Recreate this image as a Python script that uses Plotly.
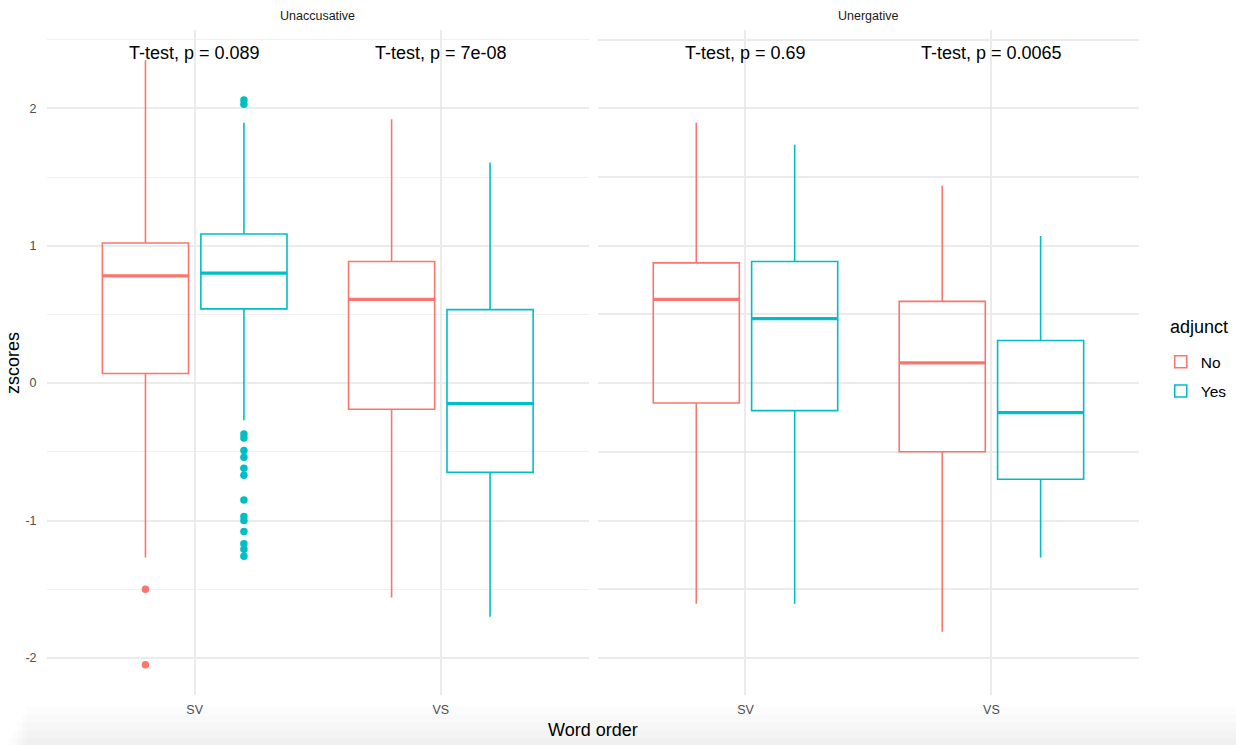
import plotly.graph_objects as go

# ---- data -------------------------------------------------------------
facets = ["Unaccusative", "Unergative"]
orders = ["SV", "VS"]
levels = ["No", "Yes"]
colors = {"No": "#F8766D", "Yes": "#00BFC4"}

# box statistics per facet / adjunct level, ordered as in `orders`
q1 = {
    ("Unaccusative", "No"): [0.07, -0.19],
    ("Unaccusative", "Yes"): [0.54, -0.65],
    ("Unergative", "No"): [-0.145, -0.50],
    ("Unergative", "Yes"): [-0.20, -0.70],
}
median = {
    ("Unaccusative", "No"): [0.78, 0.61],
    ("Unaccusative", "Yes"): [0.80, -0.15],
    ("Unergative", "No"): [0.61, 0.147],
    ("Unergative", "Yes"): [0.47, -0.215],
}
q3 = {
    ("Unaccusative", "No"): [1.02, 0.885],
    ("Unaccusative", "Yes"): [1.085, 0.535],
    ("Unergative", "No"): [0.875, 0.595],
    ("Unergative", "Yes"): [0.885, 0.31],
}
lower = {
    ("Unaccusative", "No"): [-1.27, -1.56],
    ("Unaccusative", "Yes"): [-0.27, -1.70],
    ("Unergative", "No"): [-1.605, -1.81],
    ("Unergative", "Yes"): [-1.605, -1.27],
}
upper = {
    ("Unaccusative", "No"): [2.35, 1.92],
    ("Unaccusative", "Yes"): [1.895, 1.605],
    ("Unergative", "No"): [1.895, 1.436],
    ("Unergative", "Yes"): [1.735, 1.07],
}
# outlying points: (facet, level, order) -> values
outliers = {
    ("Unaccusative", "No", "SV"): [-1.50, -2.05],
    ("Unaccusative", "Yes", "SV"): [2.06, 2.03, -0.37, -0.40, -0.49, -0.54,
                                    -0.62, -0.67, -0.85, -0.97, -1.00, -1.08,
                                    -1.17, -1.21, -1.26],
}
# t-test labels per facet, ordered as in `orders`
ttest_labels = {
    "Unaccusative": ["T-test, p = 0.089", "T-test, p = 7e-08"],
    "Unergative": ["T-test, p = 0.69", "T-test, p = 0.0065"],
}
label_y = 2.40

y_ticks = [-2, -1, 0, 1, 2]
y_ticktext = ["-2", "-1", "0", "1", "2"]

# ---- geometry of the dodged boxes -----------------------------------
dodge = {"No": -0.2, "Yes": 0.2}
box_w = 0.35

fig = go.Figure()
axes = {"Unaccusative": ("x", "y"), "Unergative": ("x2", "y2")}

for fi, facet in enumerate(facets):
    xa, ya = axes[facet]
    for lev in levels:
        key = (facet, lev)
        pos = [i + 1 + dodge[lev] for i in range(len(orders))]
        fig.add_trace(go.Box(
            x=pos, q1=q1[key], median=median[key], q3=q3[key],
            lowerfence=lower[key], upperfence=upper[key],
            width=box_w, whiskerwidth=0,
            line=dict(color=colors[lev], width=1.6),
            fillcolor="rgba(255,255,255,0)",
            boxpoints=False, hoverinfo="skip",
            name=lev, legendgroup=lev, showlegend=(fi == 0),
            xaxis=xa, yaxis=ya,
        ))
        # thicker median segment
        mx, my = [], []
        for p, m in zip(pos, median[key]):
            mx += [p - box_w / 2, p + box_w / 2, None]
            my += [m, m, None]
        fig.add_trace(go.Scatter(
            x=mx, y=my, mode="lines",
            line=dict(color=colors[lev], width=3.2),
            showlegend=False, hoverinfo="skip", xaxis=xa, yaxis=ya,
        ))
        # outliers
        for oi, order in enumerate(orders):
            vals = outliers.get((facet, lev, order))
            if vals:
                fig.add_trace(go.Scatter(
                    x=[oi + 1 + dodge[lev]] * len(vals), y=vals,
                    mode="markers",
                    marker=dict(color=colors[lev], size=7.5),
                    showlegend=False, hoverinfo="skip", xaxis=xa, yaxis=ya,
                ))
    # t-test annotations
    for oi, txt in enumerate(ttest_labels[facet]):
        fig.add_annotation(
            x=oi + 1, y=label_y, xref=xa, yref=ya, text=txt,
            showarrow=False, xanchor="center",
            font=dict(size=18, color="black"),
        )

# ---- layout -----------------------------------------------------------
grid = "#EBEBEB"
hidden_tick = dict(ticks="outside", tickcolor="rgba(0,0,0,0)")
xcommon = dict(
    range=[0.4, 2.6], tickmode="array", tickvals=[1, 2], ticktext=orders,
    showgrid=True, gridcolor=grid, gridwidth=1.7, zeroline=False,
    showline=False, ticklen=3, **hidden_tick,
    tickfont=dict(size=12.5, color="#4D4D4D"),
)
ycommon = dict(
    range=[-2.27, 2.57], tickmode="array", tickvals=y_ticks,
    ticktext=y_ticktext, showgrid=True, gridcolor=grid,
    gridwidth=1.7, zeroline=False, showline=False, ticklen=7, **hidden_tick,
    minor=dict(dtick=0.5, tick0=0, showgrid=True, gridcolor="#F0F0F0",
               gridwidth=1.1),
    tickfont=dict(size=12.5, color="#4D4D4D"),
)

left_dom = [0.0, 0.4959]
right_dom = [0.5045, 1.0]

fig.update_layout(
    width=1236, height=745,
    margin=dict(l=46.5, r=96.5, t=30, b=50, autoexpand=False),
    paper_bgcolor="white", plot_bgcolor="white",
    font=dict(family="Liberation Sans, Arial, sans-serif"),
    xaxis=dict(domain=left_dom, anchor="y", **xcommon),
    xaxis2=dict(domain=right_dom, anchor="y2", **xcommon),
    yaxis=dict(anchor="x", **ycommon),
    yaxis2=dict(anchor="x2", matches="y", showticklabels=False,
                **{k: v for k, v in ycommon.items()
                   if k not in ("tickfont", "ticktext", "tickvals", "tickmode")}),
    legend=dict(
        font=dict(size=15.5, color="black"),
        x=1.0199, y=0.526, xanchor="left", yanchor="top",
        bgcolor="rgba(0,0,0,0)", tracegroupgap=6,
    ),
)

# legend heading
fig.add_annotation(
    x=(1169 - 46.5) / 1093, y=0.5534, xref="paper", yref="paper",
    text="adjunct", showarrow=False, xanchor="left", yanchor="middle",
    font=dict(size=18, color="black"),
)

# faint shadow along the bottom edge of the page
for i, y0 in enumerate([0.0, 0.012, 0.024, 0.036, 0.048]):
    fig.add_shape(type="rect", xref="paper", yref="paper",
                  x0=-0.035 + i * 0.004, x1=1.09, y0=-0.0752,
                  y1=-0.0752 + y0 + 0.01,
                  fillcolor="rgba(0,0,0,0.013)", line=dict(width=0),
                  layer="below")

# facet strip labels
for facet, dom in zip(facets, [left_dom, right_dom]):
    fig.add_annotation(
        x=(dom[0] + dom[1]) / 2, y=1.021, xref="paper", yref="paper",
        text=facet, showarrow=False, xanchor="center", yanchor="middle",
        font=dict(size=12.5, color="#1A1A1A"),
    )

# axis titles
fig.add_annotation(
    x=0.5, y=-0.053, xref="paper", yref="paper", text="Word order",
    showarrow=False, xanchor="center", yanchor="middle",
    font=dict(size=18, color="black"),
)
fig.add_annotation(
    x=-0.0316, y=0.5, xref="paper", yref="paper", text="zscores",
    showarrow=False, textangle=-90, xanchor="center", yanchor="middle",
    font=dict(size=18, color="black"),
)

fig.write_html("out.html")
